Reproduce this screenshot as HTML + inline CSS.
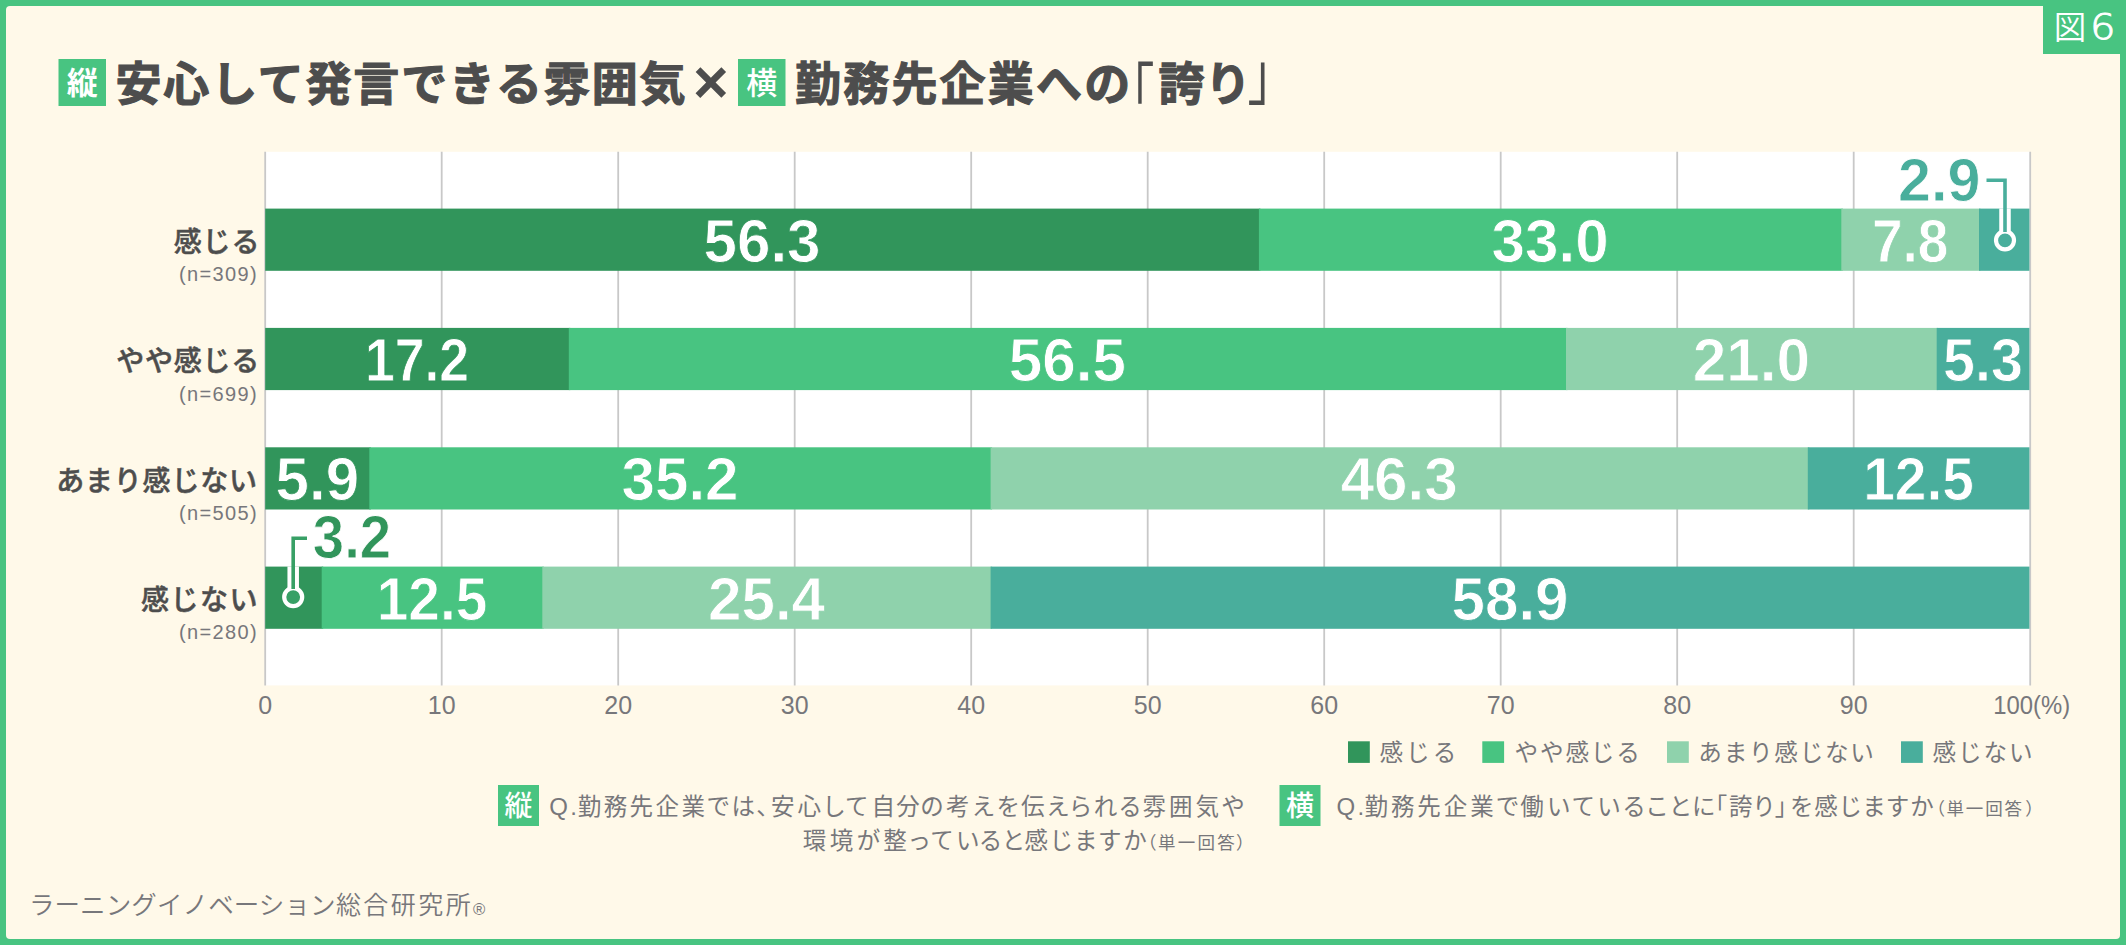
<!DOCTYPE html>
<html lang="ja"><head><meta charset="utf-8"><title>図6 安心して発言できる雰囲気×勤務先企業への「誇り」</title>
<style>html,body{margin:0;padding:0;background:#48c481;}body{width:2126px;height:945px;overflow:hidden;}svg{display:block;}text{white-space:pre;}.palt{font-feature-settings:'palt' 1;}</style>
</head><body>
<svg width="2126" height="945" viewBox="0 0 2126 945">
<defs>
<clipPath id="c1"><rect x="1979.0" y="208.6" width="60" height="62.2"/></clipPath>
<clipPath id="c2"><rect x="265.2" y="566.6" width="56.5" height="62.2"/></clipPath>
</defs>
<rect x="0" y="0" width="2126" height="945" fill="#48c481"/>
<rect x="6" y="6" width="2114" height="933" rx="4" ry="4" fill="#fff9e9"/>
<rect x="2043" y="0" width="83" height="54" fill="#48c481"/>
<text x="2053.8" y="38.9" font-family='"Liberation Sans","Noto Sans CJK JP",sans-serif' font-weight="350" font-size="32.5" fill="#fff">図</text>
<g transform="translate(2102.7 39.4) scale(1.13 1)"><text x="0" y="0" text-anchor="middle" font-family='"DejaVu Sans","Liberation Sans",sans-serif' font-weight="200" font-size="35.5" fill="#fff" stroke="#fff" stroke-width="0.9">6</text></g>
<rect x="58.5" y="59" width="47.5" height="47" fill="#48c481"/>
<text x="82.2" y="93.8" text-anchor="middle" font-family='"Liberation Sans","Noto Sans CJK JP",sans-serif' font-weight="700" font-size="31" fill="#fff">縦</text>
<text x="115.5" y="100" font-family='"Liberation Sans","Noto Sans CJK JP",sans-serif' font-weight="700" font-size="46" letter-spacing="1.85" stroke="#4d4d4d" stroke-width="1.15" stroke-linejoin="miter" fill="#4d4d4d">安心して発言できる雰囲気</text>
<text x="692.9" y="102.9" font-family='"Liberation Sans","Noto Sans CJK JP",sans-serif' font-weight="700" font-size="61" fill="#4d4d4d">×</text>
<rect x="738" y="59" width="47.5" height="47" fill="#48c481"/>
<text x="761.7" y="93.8" text-anchor="middle" font-family='"Liberation Sans","Noto Sans CJK JP",sans-serif' font-weight="500" font-size="31" fill="#fff">横</text>
<text x="795" y="100" font-family='"Liberation Sans","Noto Sans CJK JP",sans-serif' font-weight="700" font-size="46" letter-spacing="2.2" stroke="#4d4d4d" stroke-width="1.15" stroke-linejoin="miter" fill="#4d4d4d">勤務先企業への</text>
<g transform="translate(1108.3 116.3) scale(0.77 1.067)"><text x="0" y="0" font-family='"Liberation Sans","Noto Sans CJK JP",sans-serif' font-weight="400" font-size="60" fill="#4d4d4d">「</text></g>
<text x="1158.5" y="100" font-family='"Liberation Sans","Noto Sans CJK JP",sans-serif' font-weight="700" font-size="46" letter-spacing="0.5" stroke="#4d4d4d" stroke-width="1.15" stroke-linejoin="miter" fill="#4d4d4d">誇り</text>
<g transform="translate(1247.5 99.1) scale(0.81 1.07)"><text x="0" y="0" font-family='"Liberation Sans","Noto Sans CJK JP",sans-serif' font-weight="400" font-size="60" fill="#4d4d4d">」</text></g>
<rect x="265.2" y="151.8" width="1765.0" height="533.5999999999999" fill="#fff"/>
<line x1="265.2" y1="151.8" x2="265.2" y2="685.4" stroke="#c8c8c8" stroke-width="1.8"/>
<line x1="441.7" y1="151.8" x2="441.7" y2="685.4" stroke="#c8c8c8" stroke-width="1.8"/>
<line x1="618.2" y1="151.8" x2="618.2" y2="685.4" stroke="#c8c8c8" stroke-width="1.8"/>
<line x1="794.7" y1="151.8" x2="794.7" y2="685.4" stroke="#c8c8c8" stroke-width="1.8"/>
<line x1="971.2" y1="151.8" x2="971.2" y2="685.4" stroke="#c8c8c8" stroke-width="1.8"/>
<line x1="1147.7" y1="151.8" x2="1147.7" y2="685.4" stroke="#c8c8c8" stroke-width="1.8"/>
<line x1="1324.2" y1="151.8" x2="1324.2" y2="685.4" stroke="#c8c8c8" stroke-width="1.8"/>
<line x1="1500.7" y1="151.8" x2="1500.7" y2="685.4" stroke="#c8c8c8" stroke-width="1.8"/>
<line x1="1677.2" y1="151.8" x2="1677.2" y2="685.4" stroke="#c8c8c8" stroke-width="1.8"/>
<line x1="1853.7" y1="151.8" x2="1853.7" y2="685.4" stroke="#c8c8c8" stroke-width="1.8"/>
<line x1="2030.2" y1="151.8" x2="2030.2" y2="685.4" stroke="#c8c8c8" stroke-width="1.8"/>
<rect x="265.2" y="208.6" width="995.2" height="62.2" fill="#31955b"/>
<g transform="translate(762.0 261.6) scale(0.990 1)"><text x="0" y="0" text-anchor="middle" font-family='"Liberation Sans","Noto Sans CJK JP",sans-serif' font-weight="700" font-size="60.8" fill="#fff" stroke="#31955b" stroke-width="0.8" stroke-linejoin="round">56.3</text></g>
<rect x="1258.9" y="208.6" width="584.0" height="62.2" fill="#48c481"/>
<g transform="translate(1550.1 261.6) scale(0.990 1)"><text x="0" y="0" text-anchor="middle" font-family='"Liberation Sans","Noto Sans CJK JP",sans-serif' font-weight="700" font-size="60.8" fill="#fff" stroke="#48c481" stroke-width="0.8" stroke-linejoin="round">33.0</text></g>
<rect x="1841.3" y="208.6" width="139.2" height="62.2" fill="#8fd2ac"/>
<g transform="translate(1910.2 261.6) scale(0.906 1)"><text x="0" y="0" text-anchor="middle" font-family='"Liberation Sans","Noto Sans CJK JP",sans-serif' font-weight="700" font-size="60.8" fill="#fff" stroke="#8fd2ac" stroke-width="0.8" stroke-linejoin="round">7.8</text></g>
<rect x="1979.0" y="208.6" width="50.4" height="62.2" fill="#49ae9c"/>
<text x="260.2" y="251.8" text-anchor="end" font-family='"Liberation Sans","Noto Sans CJK JP",sans-serif' font-weight="500" font-size="28" letter-spacing="0.8" stroke="#4d4d4d" stroke-width="0.5" fill="#4d4d4d">感じる</text>
<text x="258.2" y="281.4" text-anchor="end" font-family='"Liberation Sans","Noto Sans CJK JP",sans-serif' font-weight="400" font-size="20" letter-spacing="1.4" fill="#77777b">(n=309)</text>
<rect x="265.2" y="327.9" width="305.1" height="62.2" fill="#31955b"/>
<g transform="translate(417.0 380.9) scale(0.881 1)"><text x="0" y="0" text-anchor="middle" font-family='"Liberation Sans","Noto Sans CJK JP",sans-serif' font-weight="700" font-size="60.8" fill="#fff" stroke="#31955b" stroke-width="0.8" stroke-linejoin="round">17.2</text></g>
<rect x="568.8" y="327.9" width="998.7" height="62.2" fill="#48c481"/>
<g transform="translate(1067.4 380.9) scale(0.990 1)"><text x="0" y="0" text-anchor="middle" font-family='"Liberation Sans","Noto Sans CJK JP",sans-serif' font-weight="700" font-size="60.8" fill="#fff" stroke="#48c481" stroke-width="0.8" stroke-linejoin="round">56.5</text></g>
<rect x="1566.0" y="327.9" width="372.1" height="62.2" fill="#8fd2ac"/>
<g transform="translate(1751.3 380.9) scale(0.990 1)"><text x="0" y="0" text-anchor="middle" font-family='"Liberation Sans","Noto Sans CJK JP",sans-serif' font-weight="700" font-size="60.8" fill="#fff" stroke="#8fd2ac" stroke-width="0.8" stroke-linejoin="round">21.0</text></g>
<rect x="1936.7" y="327.9" width="92.7" height="62.2" fill="#49ae9c"/>
<g transform="translate(1983.0 380.9) scale(0.945 1)"><text x="0" y="0" text-anchor="middle" font-family='"Liberation Sans","Noto Sans CJK JP",sans-serif' font-weight="700" font-size="60.8" fill="#fff" stroke="#49ae9c" stroke-width="0.8" stroke-linejoin="round">5.3</text></g>
<text x="260.2" y="371.1" text-anchor="end" font-family='"Liberation Sans","Noto Sans CJK JP",sans-serif' font-weight="500" font-size="28" letter-spacing="0.8" stroke="#4d4d4d" stroke-width="0.5" fill="#4d4d4d">やや感じる</text>
<text x="258.2" y="400.8" text-anchor="end" font-family='"Liberation Sans","Noto Sans CJK JP",sans-serif' font-weight="400" font-size="20" letter-spacing="1.4" fill="#77777b">(n=699)</text>
<rect x="265.2" y="447.3" width="105.6" height="62.2" fill="#31955b"/>
<g transform="translate(317.3 500.3) scale(0.990 1)"><text x="0" y="0" text-anchor="middle" font-family='"Liberation Sans","Noto Sans CJK JP",sans-serif' font-weight="700" font-size="60.8" fill="#fff" stroke="#31955b" stroke-width="0.8" stroke-linejoin="round">5.9</text></g>
<rect x="369.3" y="447.3" width="622.8" height="62.2" fill="#48c481"/>
<g transform="translate(680.0 500.3) scale(0.990 1)"><text x="0" y="0" text-anchor="middle" font-family='"Liberation Sans","Noto Sans CJK JP",sans-serif' font-weight="700" font-size="60.8" fill="#fff" stroke="#48c481" stroke-width="0.8" stroke-linejoin="round">35.2</text></g>
<rect x="990.6" y="447.3" width="818.7" height="62.2" fill="#8fd2ac"/>
<g transform="translate(1399.2 500.3) scale(0.990 1)"><text x="0" y="0" text-anchor="middle" font-family='"Liberation Sans","Noto Sans CJK JP",sans-serif' font-weight="700" font-size="60.8" fill="#fff" stroke="#8fd2ac" stroke-width="0.8" stroke-linejoin="round">46.3</text></g>
<rect x="1807.8" y="447.3" width="221.6" height="62.2" fill="#49ae9c"/>
<g transform="translate(1918.6 500.3) scale(0.936 1)"><text x="0" y="0" text-anchor="middle" font-family='"Liberation Sans","Noto Sans CJK JP",sans-serif' font-weight="700" font-size="60.8" fill="#fff" stroke="#49ae9c" stroke-width="0.8" stroke-linejoin="round">12.5</text></g>
<text x="257.8" y="490.5" text-anchor="end" font-family='"Liberation Sans","Noto Sans CJK JP",sans-serif' font-weight="500" font-size="28" letter-spacing="0.8" stroke="#4d4d4d" stroke-width="0.5" fill="#4d4d4d">あまり感じない</text>
<text x="258.2" y="520.1" text-anchor="end" font-family='"Liberation Sans","Noto Sans CJK JP",sans-serif' font-weight="400" font-size="20" letter-spacing="1.4" fill="#77777b">(n=505)</text>
<rect x="265.2" y="566.6" width="58.0" height="62.2" fill="#31955b"/>
<rect x="321.7" y="566.6" width="222.1" height="62.2" fill="#48c481"/>
<g transform="translate(432.0 619.6) scale(0.936 1)"><text x="0" y="0" text-anchor="middle" font-family='"Liberation Sans","Noto Sans CJK JP",sans-serif' font-weight="700" font-size="60.8" fill="#fff" stroke="#48c481" stroke-width="0.8" stroke-linejoin="round">12.5</text></g>
<rect x="542.3" y="566.6" width="449.8" height="62.2" fill="#8fd2ac"/>
<g transform="translate(766.5 619.6) scale(0.990 1)"><text x="0" y="0" text-anchor="middle" font-family='"Liberation Sans","Noto Sans CJK JP",sans-serif' font-weight="700" font-size="60.8" fill="#fff" stroke="#8fd2ac" stroke-width="0.8" stroke-linejoin="round">25.4</text></g>
<rect x="990.6" y="566.6" width="1038.8" height="62.2" fill="#49ae9c"/>
<g transform="translate(1510.0 619.6) scale(0.990 1)"><text x="0" y="0" text-anchor="middle" font-family='"Liberation Sans","Noto Sans CJK JP",sans-serif' font-weight="700" font-size="60.8" fill="#fff" stroke="#49ae9c" stroke-width="0.8" stroke-linejoin="round">58.9</text></g>
<text x="258.9" y="609.9" text-anchor="end" font-family='"Liberation Sans","Noto Sans CJK JP",sans-serif' font-weight="500" font-size="28" letter-spacing="1.45" stroke="#4d4d4d" stroke-width="0.5" fill="#4d4d4d">感じない</text>
<text x="258.2" y="639.4" text-anchor="end" font-family='"Liberation Sans","Noto Sans CJK JP",sans-serif' font-weight="400" font-size="20" letter-spacing="1.4" fill="#77777b">(n=280)</text>
<path d="M1986.5 180.3 H2005 V240" stroke="#fff" stroke-width="11.5" fill="none" clip-path="url(#c1)"/>
<circle cx="2005" cy="240.3" r="9" fill="#49ae9c" stroke="#fff" stroke-width="4.2"/>
<path d="M1986.5 180.3 H2005 V232" stroke="#49ae9c" stroke-width="3.6" fill="none"/>
<g transform="translate(1939.2 201.4) scale(0.975 1)"><text x="0" y="0" text-anchor="middle" font-family='"Liberation Sans","Noto Sans CJK JP",sans-serif' font-weight="700" font-size="60.8" fill="#49ae9c" stroke="#fff" stroke-width="0.8" stroke-linejoin="round">2.9</text></g>
<path d="M307 538.2 H293.2 V597" stroke="#fff" stroke-width="11.5" fill="none" clip-path="url(#c2)"/>
<circle cx="293.2" cy="597.1" r="9" fill="#38a066" stroke="#fff" stroke-width="4.2"/>
<path d="M307 538.2 H293.2 V589" stroke="#38a066" stroke-width="3.6" fill="none"/>
<g transform="translate(352.0 558.3) scale(0.926 1)"><text x="0" y="0" text-anchor="middle" font-family='"Liberation Sans","Noto Sans CJK JP",sans-serif' font-weight="700" font-size="60.8" fill="#31955b" stroke="#fff" stroke-width="0.8" stroke-linejoin="round">3.2</text></g>
<text x="265.2" y="714.3" text-anchor="middle" font-family='"Liberation Sans","Noto Sans CJK JP",sans-serif' font-size="25" fill="#77777b">0</text>
<text x="441.7" y="714.3" text-anchor="middle" font-family='"Liberation Sans","Noto Sans CJK JP",sans-serif' font-size="25" fill="#77777b">10</text>
<text x="618.2" y="714.3" text-anchor="middle" font-family='"Liberation Sans","Noto Sans CJK JP",sans-serif' font-size="25" fill="#77777b">20</text>
<text x="794.7" y="714.3" text-anchor="middle" font-family='"Liberation Sans","Noto Sans CJK JP",sans-serif' font-size="25" fill="#77777b">30</text>
<text x="971.2" y="714.3" text-anchor="middle" font-family='"Liberation Sans","Noto Sans CJK JP",sans-serif' font-size="25" fill="#77777b">40</text>
<text x="1147.7" y="714.3" text-anchor="middle" font-family='"Liberation Sans","Noto Sans CJK JP",sans-serif' font-size="25" fill="#77777b">50</text>
<text x="1324.2" y="714.3" text-anchor="middle" font-family='"Liberation Sans","Noto Sans CJK JP",sans-serif' font-size="25" fill="#77777b">60</text>
<text x="1500.7" y="714.3" text-anchor="middle" font-family='"Liberation Sans","Noto Sans CJK JP",sans-serif' font-size="25" fill="#77777b">70</text>
<text x="1677.2" y="714.3" text-anchor="middle" font-family='"Liberation Sans","Noto Sans CJK JP",sans-serif' font-size="25" fill="#77777b">80</text>
<text x="1853.7" y="714.3" text-anchor="middle" font-family='"Liberation Sans","Noto Sans CJK JP",sans-serif' font-size="25" fill="#77777b">90</text>
<g transform="translate(2031.7 714.3) scale(0.955 1)"><text x="0" y="0" text-anchor="middle" font-family='"Liberation Sans","Noto Sans CJK JP",sans-serif' font-size="25" fill="#77777b">100(%)</text></g>
<rect x="1348" y="741.3" width="21.8" height="21.6" fill="#31955b"/>
<text x="1379.5" y="760.6" font-family='"Liberation Sans","Noto Sans CJK JP",sans-serif' font-weight="400" font-size="23.6" letter-spacing="3.0" fill="#77777b">感じる</text>
<rect x="1482.3" y="741.3" width="21.8" height="21.6" fill="#48c481"/>
<text x="1514.5" y="760.6" font-family='"Liberation Sans","Noto Sans CJK JP",sans-serif' font-weight="400" font-size="23.6" letter-spacing="1.85" fill="#77777b">やや感じる</text>
<rect x="1667" y="741.3" width="21.8" height="21.6" fill="#8fd2ac"/>
<text x="1698.3" y="760.6" font-family='"Liberation Sans","Noto Sans CJK JP",sans-serif' font-weight="400" font-size="23.6" letter-spacing="1.75" fill="#77777b">あまり感じない</text>
<rect x="1901" y="741.3" width="21.8" height="21.6" fill="#49ae9c"/>
<text x="1932.5" y="760.6" font-family='"Liberation Sans","Noto Sans CJK JP",sans-serif' font-weight="400" font-size="23.6" letter-spacing="1.9" fill="#77777b">感じない</text>
<rect x="498" y="785" width="41" height="41" fill="#48c481"/>
<text x="518.5" y="815.5" text-anchor="middle" font-family='"Liberation Sans","Noto Sans CJK JP",sans-serif' font-weight="500" font-size="28" fill="#fff">縦</text>
<text x="549.3" y="815.0" font-family='"Liberation Sans","Noto Sans CJK JP",sans-serif' font-weight="400" font-size="24" fill="#77777b" class="palt">Q</text>
<text x="570.2" y="815.0" font-family='"Liberation Sans","Noto Sans CJK JP",sans-serif' font-weight="400" font-size="24" fill="#77777b" class="palt">.</text>
<text x="577.7" y="815.0" textLength="177.4" lengthAdjust="spacing" font-family='"Liberation Sans","Noto Sans CJK JP",sans-serif' font-weight="400" font-size="23.5" fill="#77777b" class="palt">勤務先企業では</text>
<text x="756.4" y="815.0" font-family='"Liberation Sans","Noto Sans CJK JP",sans-serif' font-weight="400" font-size="23.5" fill="#77777b" class="palt">、</text>
<text x="771.1" y="815.0" textLength="96.6" lengthAdjust="spacing" font-family='"Liberation Sans","Noto Sans CJK JP",sans-serif' font-weight="400" font-size="23.5" fill="#77777b" class="palt">安心して</text>
<text x="871.6" y="815.0" textLength="71.8" lengthAdjust="spacing" font-family='"Liberation Sans","Noto Sans CJK JP",sans-serif' font-weight="400" font-size="23.5" fill="#77777b" class="palt">自分の</text>
<text x="946.0" y="815.0" textLength="72.4" lengthAdjust="spacing" font-family='"Liberation Sans","Noto Sans CJK JP",sans-serif' font-weight="400" font-size="23.5" fill="#77777b" class="palt">考えを</text>
<text x="1021.1" y="815.0" textLength="119.3" lengthAdjust="spacing" font-family='"Liberation Sans","Noto Sans CJK JP",sans-serif' font-weight="400" font-size="23.5" fill="#77777b" class="palt">伝えられる</text>
<text x="1142.6" y="815.0" textLength="101.5" lengthAdjust="spacing" font-family='"Liberation Sans","Noto Sans CJK JP",sans-serif' font-weight="400" font-size="23.5" fill="#77777b" class="palt">雰囲気や</text>
<text x="802.8" y="848.9" textLength="150.0" lengthAdjust="spacing" font-family='"Liberation Sans","Noto Sans CJK JP",sans-serif' font-weight="400" font-size="23.5" fill="#77777b" class="palt">環境が整って</text>
<text x="956.4" y="848.9" textLength="66.7" lengthAdjust="spacing" font-family='"Liberation Sans","Noto Sans CJK JP",sans-serif' font-weight="400" font-size="23.5" fill="#77777b" class="palt">いると</text>
<text x="1024.5" y="848.9" textLength="121.9" lengthAdjust="spacing" font-family='"Liberation Sans","Noto Sans CJK JP",sans-serif' font-weight="400" font-size="23.5" fill="#77777b" class="palt">感じますか</text>
<text x="1147.2" y="848.9" font-family='"Liberation Sans","Noto Sans CJK JP",sans-serif' font-weight="400" font-size="17.5" fill="#77777b" class="palt">（</text>
<text x="1157.9" y="848.9" textLength="76.9" lengthAdjust="spacing" font-family='"Liberation Sans","Noto Sans CJK JP",sans-serif' font-weight="400" font-size="17.5" fill="#77777b" class="palt">単一回答</text>
<text x="1236.6" y="848.9" font-family='"Liberation Sans","Noto Sans CJK JP",sans-serif' font-weight="400" font-size="17.5" fill="#77777b" class="palt">）</text>
<rect x="1279.5" y="785" width="41" height="41" fill="#48c481"/>
<text x="1300" y="815.5" text-anchor="middle" font-family='"Liberation Sans","Noto Sans CJK JP",sans-serif' font-weight="500" font-size="28" fill="#fff">横</text>
<text x="1336.5" y="815.0" font-family='"Liberation Sans","Noto Sans CJK JP",sans-serif' font-weight="400" font-size="24" fill="#77777b" class="palt">Q</text>
<text x="1357.4" y="815.0" font-family='"Liberation Sans","Noto Sans CJK JP",sans-serif' font-weight="400" font-size="24" fill="#77777b" class="palt">.</text>
<text x="1364.5" y="815.0" textLength="153.9" lengthAdjust="spacing" font-family='"Liberation Sans","Noto Sans CJK JP",sans-serif' font-weight="400" font-size="23.5" fill="#77777b" class="palt">勤務先企業で</text>
<text x="1520.3" y="815.0" textLength="124.1" lengthAdjust="spacing" font-family='"Liberation Sans","Noto Sans CJK JP",sans-serif' font-weight="400" font-size="23.5" fill="#77777b" class="palt">働いている</text>
<text x="1647.0" y="815.0" textLength="68.0" lengthAdjust="spacing" font-family='"Liberation Sans","Noto Sans CJK JP",sans-serif' font-weight="400" font-size="23.5" fill="#77777b" class="palt">ことに</text>
<text x="1715.0" y="815.0" font-family='"Liberation Sans","Noto Sans CJK JP",sans-serif' font-weight="400" font-size="23.5" fill="#77777b" class="palt">「</text>
<text x="1729.0" y="815.0" textLength="44.3" lengthAdjust="spacing" font-family='"Liberation Sans","Noto Sans CJK JP",sans-serif' font-weight="400" font-size="23.5" fill="#77777b" class="palt">誇り</text>
<text x="1775.2" y="815.0" font-family='"Liberation Sans","Noto Sans CJK JP",sans-serif' font-weight="400" font-size="23.5" fill="#77777b" class="palt">」</text>
<text x="1790.2" y="815.0" textLength="143.1" lengthAdjust="spacing" font-family='"Liberation Sans","Noto Sans CJK JP",sans-serif' font-weight="400" font-size="23.5" fill="#77777b" class="palt">を感じますか</text>
<text x="1935.6" y="815.0" font-family='"Liberation Sans","Noto Sans CJK JP",sans-serif' font-weight="400" font-size="17.5" fill="#77777b" class="palt">（</text>
<text x="1946.6" y="815.0" textLength="75.3" lengthAdjust="spacing" font-family='"Liberation Sans","Noto Sans CJK JP",sans-serif' font-weight="400" font-size="17.5" fill="#77777b" class="palt">単一回答</text>
<text x="2025.9" y="815.0" font-family='"Liberation Sans","Noto Sans CJK JP",sans-serif' font-weight="400" font-size="17.5" fill="#77777b" class="palt">）</text>
<text x="28.9" y="914.0" textLength="306.7" lengthAdjust="spacing" font-family='"Liberation Sans","Noto Sans CJK JP",sans-serif' font-weight="350" font-size="25.5" fill="#77777b">ラーニングイノベーション</text>
<text x="335.9" y="914.0" textLength="134.9" lengthAdjust="spacing" font-family='"Liberation Sans","Noto Sans CJK JP",sans-serif' font-weight="350" font-size="25" fill="#77777b">総合研究所</text>
<text x="473" y="915.2" font-family='"Liberation Sans","Noto Sans CJK JP",sans-serif' font-size="16.7" fill="#77777b">®</text>
</svg>
</body></html>
